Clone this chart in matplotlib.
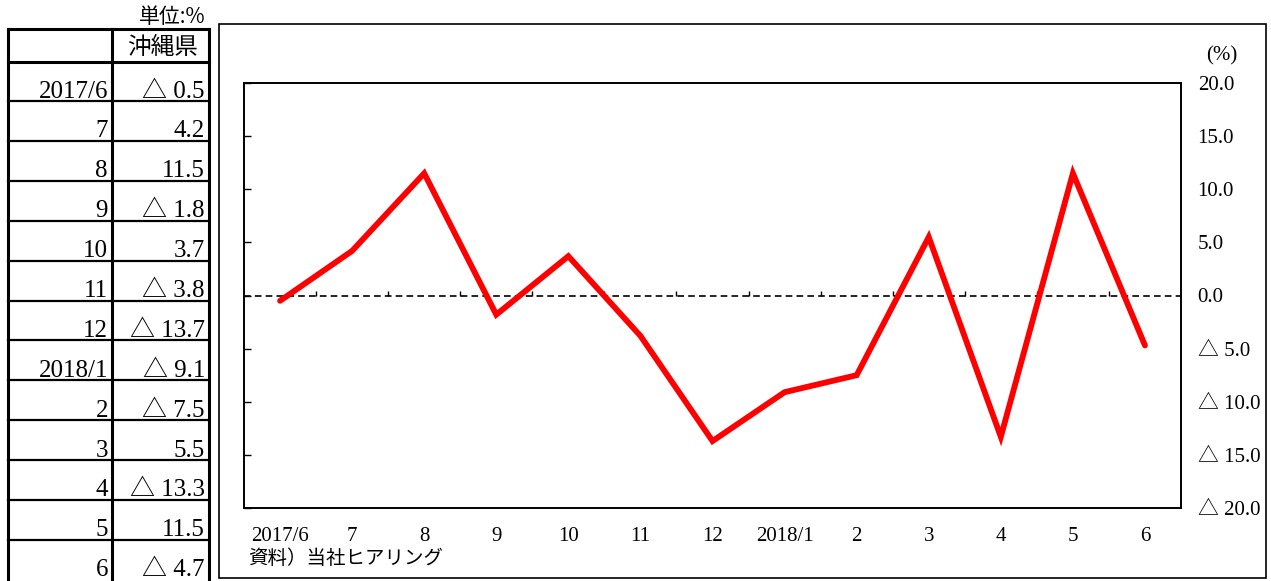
import matplotlib
matplotlib.use("Agg")
import matplotlib.pyplot as plt
from matplotlib.patches import Rectangle

# ---------------- data ----------------
months = ["2017/6", "7", "8", "9", "10", "11", "12", "2018/1", "2", "3", "4", "5", "6"]
okinawa = [-0.5, 4.2, 11.5, -1.8, 3.7, -3.8, -13.7, -9.1, -7.5, 5.5, -13.3, 11.5, -4.7]
yticks = [20, 15, 10, 5, 0, -5, -10, -15, -20]
header_region = "沖縄県"
unit_label = "単位:%"
pct_label = "(%)"
source_label = "資料）当社ヒアリング"


def fmt(v):
    return f"△ {abs(v):.1f}" if v < 0 else f"{v:.1f}"


SERIF = ["Liberation Serif", "Noto Sans CJK JP"]
CJK = ["Noto Sans CJK JP", "DejaVu Sans"]

W, H = 1271, 581
fig = plt.figure(figsize=(W / 100, H / 100), dpi=100)
fig.patch.set_facecolor("white")

# overlay axes in pixel coordinates
ov = fig.add_axes([0, 0, 1, 1])
ov.set_xlim(0, W)
ov.set_ylim(H, 0)
ov.axis("off")

# ---------------- table ----------------
tx0, tdiv, tx1 = 8, 112, 209
ty0, thead = 29, 62
first_line = 101
row_h = 39.9
n = len(months)
row_lines = [first_line + row_h * i for i in range(n)]

ov.plot([tx0, tx1], [ty0, ty0], color="black", lw=2.2)
ov.plot([tx0, tx1], [thead, thead], color="black", lw=2.2)
for x in (tx0, tdiv, tx1):
    ov.plot([x, x], [ty0, H + 2], color="black", lw=2.2)
for y in row_lines[:-1]:
    ov.plot([tx0, tx1], [y, y], color="black", lw=1.6)

ov.text(tx1 - 4, 17, unit_label, ha="right", va="center", fontsize=15, family=CJK)
ov.text((tdiv + tx1) / 2 + 2, 47, header_region, ha="center", va="center", fontsize=17, family=CJK)
for i, (m, v) in enumerate(zip(months, okinawa)):
    yb = row_lines[i] - 3.5
    ov.text(tdiv - 4, yb, m, ha="right", va="baseline", fontsize=18, family=SERIF)
    ov.text(tx1 - 4, yb, fmt(v), ha="right", va="baseline", fontsize=18, family=SERIF)

# ---------------- chart frame ----------------
ov.add_patch(Rectangle((219, 24), 1266 - 219, 578 - 24, fill=False, edgecolor="black", lw=1.2))
ov.text(1222, 56, pct_label, ha="center", va="center", fontsize=15, family=SERIF)
ov.text(248, 559, source_label, ha="left", va="center", fontsize=14, family=CJK)

# ---------------- main plot ----------------
px0, px1, py0, py1 = 244, 1181, 83, 508
ax = fig.add_axes([px0 / W, (H - py1) / H, (px1 - px0) / W, (py1 - py0) / H])
x = list(range(n))
ax.plot(x, okinawa, color="#ff0000", lw=4.2, solid_capstyle="round", solid_joinstyle="miter", zorder=3)
ax.axhline(0, color="black", lw=1.2, ls=(0, (4, 2.5)), zorder=2)
# category boundary ticks on the zero line
bounds = [i + 0.5 for i in range(n - 1)]
ax.vlines(bounds, 0, 0.45, color="black", lw=1.0, zorder=2)

ax.set_xlim(-0.5, n - 0.5)
ax.set_ylim(-20, 20)
ax.set_xticks(x)
ax.set_xticklabels(months, family=SERIF, fontsize=15)
ax.tick_params(axis="x", length=0, pad=14)
ax.set_yticks(yticks)
ax.set_yticklabels([fmt(v) for v in yticks], family=SERIF, fontsize=15)
ax.tick_params(axis="y", direction="in", length=5, width=1.0, left=True, right=False,
               labelleft=False, labelright=True, pad=12)
for s in ax.spines.values():
    s.set_linewidth(1.4)
    s.set_color("black")

fig.savefig("out.png", dpi=100, facecolor="white")
